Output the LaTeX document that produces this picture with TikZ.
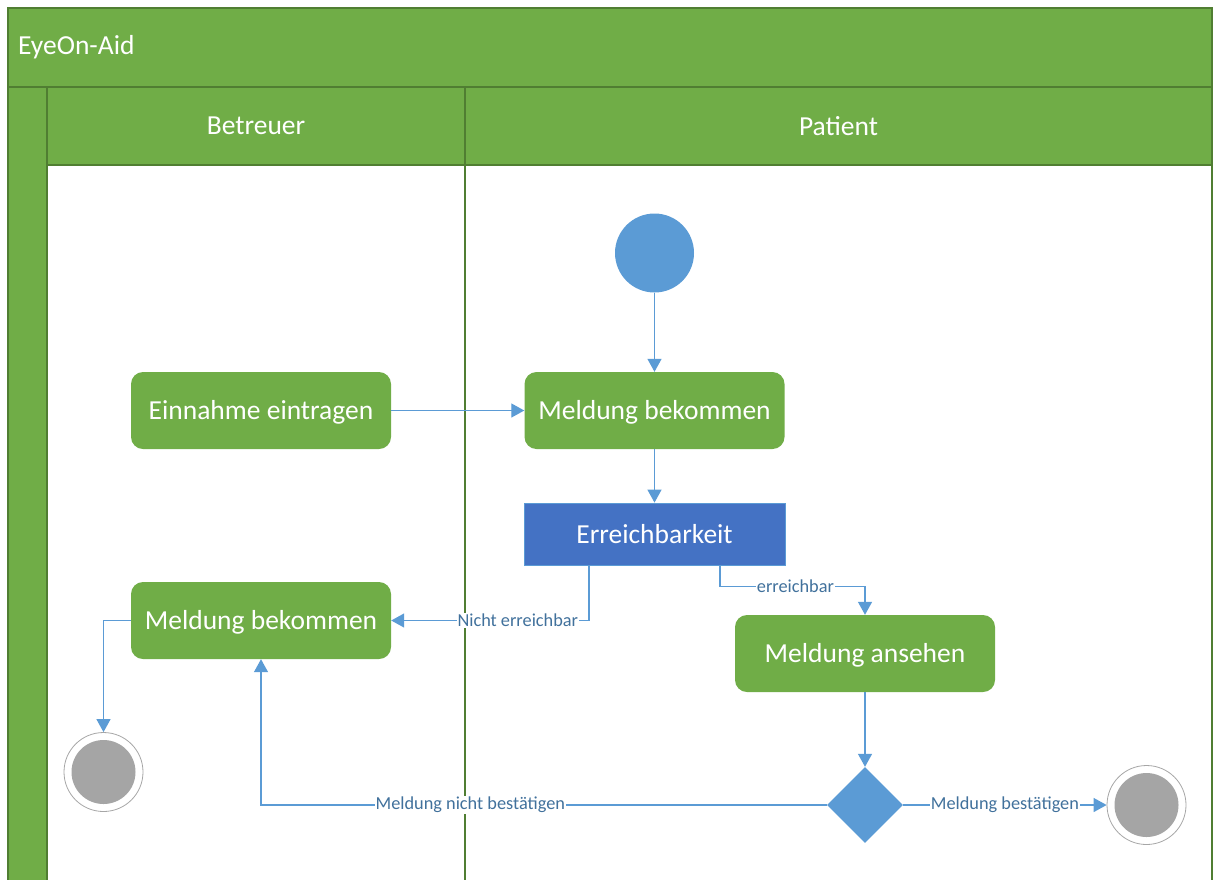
\documentclass[tikz,border=0pt]{standalone}
\usepackage{fontspec}
\setmainfont{Carlito}
\usetikzlibrary{arrows.meta,shapes.geometric}
\definecolor{lanegreen}{HTML}{70AD47}
\definecolor{laneedge}{HTML}{507E32}
\definecolor{flowblue}{HTML}{5B9BD5}
\definecolor{decblue}{HTML}{4472C4}
\definecolor{labelblue}{HTML}{41719C}
\definecolor{endgrey}{HTML}{A5A5A5}
\definecolor{ringgrey}{HTML}{A6A6A6}

\begin{document}
\begin{tikzpicture}[x=1pt,y=-1pt,
  lane/.style={draw=laneedge, fill=lanegreen, line width=1.2pt},
  lanetext/.style={text=white, font=\fontsize{27.5}{33}\selectfont, inner sep=0pt},
  action/.style={rounded corners=12pt, fill=lanegreen, minimum width=260pt, minimum height=77pt,
    text=white, font=\fontsize{27.5}{33}\selectfont, inner sep=0pt, text depth=0.5pt},
  decision/.style={rectangle, fill=decblue, draw=flowblue, line width=0.8pt, minimum width=261pt, minimum height=62pt,
    text=white, font=\fontsize{27.5}{33}\selectfont, inner sep=0pt},
  startstate/.style={circle, fill=flowblue, minimum size=79pt, inner sep=0pt},
  endstate/.style={circle, fill=white, draw=ringgrey, line width=0.8pt, minimum size=79pt, inner sep=0pt,
    path picture={\fill[endgrey] (path picture bounding box.center) circle (32pt);}},
  branch/.style={diamond, fill=flowblue, minimum width=76pt, minimum height=76pt, inner sep=0pt, aspect=1},
  flow/.style={draw=flowblue, line width=1.3pt, -{Triangle[width=14pt,length=13pt]}},
  lbl/.style={fill=white, text=labelblue, font=\fontsize{18.3}{22}\selectfont, inner sep=1pt}
]
\useasboundingbox (0,0) rectangle (1214,879);

% pool and lanes (the pool runs on below the visible page edge)
\path[lane] (8,8) rectangle (1212,87);
\path[lane] (8,87) rectangle (47,890);
\path[lane] (47,87) rectangle (465,165);
\path[lane] (465,87) rectangle (1212,165);
\draw[laneedge, line width=1.2pt] (465,165) -- (465,890);
\draw[laneedge, line width=1.2pt] (1212,165) -- (1212,890);

\node[lanetext, anchor=west] (pool) at (18,47) {EyeOn-Aid};
\node[lanetext] (laneB) at (256,126) {Betreuer};
\node[lanetext] (laneP) at (838.5,126) {Patient};

% activities
\node[startstate] (start) at (654.5,253) {};
\node[action] (mbP) at (654.5,410.5) {Meldung bekommen};
\node[action] (ein) at (261,410.5) {Einnahme eintragen};
\node[decision] (err) at (654.5,534) {Erreichbarkeit};
\node[action] (mbB) at (261,620.5) {Meldung bekommen};
\node[action] (man) at (865,653.5) {Meldung ansehen};
\node[branch] (dec) at (865,805) {};
\node[endstate] (endL) at (103.5,772) {};
\node[endstate] (endR) at (1146.5,805) {};

% flows
\draw[flow] (start) -- (mbP);
\draw[flow] (ein) -- (mbP);
\draw[flow] (mbP) -- (err);
\draw[flow] ([xshift=-65.5pt]err.south) |- node[lbl, pos=0.68] {Nicht erreichbar} (mbB.east);
\draw[flow] ([xshift=65.5pt]err.south) -- ++(0,21) -| node[lbl, pos=0.26] {erreichbar} (man.north);
\draw[flow] (man) -- (dec);
\draw[flow] (dec) -- node[lbl] {Meldung bestätigen} (endR);
\draw[flow] (dec.west) -| node[lbl, pos=0.315] {Meldung nicht bestätigen} (mbB.south);
\draw[flow] (mbB.west) -| (endL.north);
\end{tikzpicture}
\end{document}
